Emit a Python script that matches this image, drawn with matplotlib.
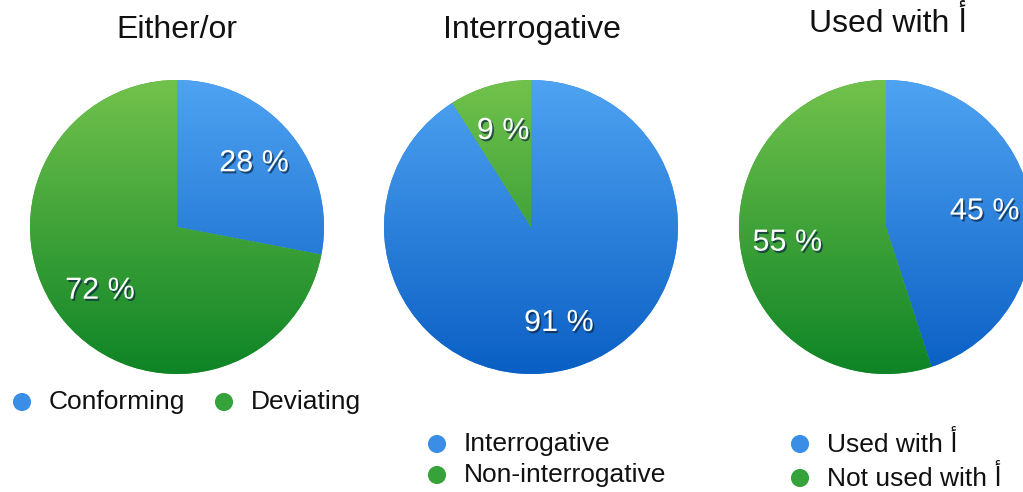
import numpy as np
import matplotlib.pyplot as plt
import matplotlib.patheffects as pe
from matplotlib.colors import LinearSegmentedColormap

plt.rcParams['font.family'] = ['Liberation Sans', 'DejaVu Sans']

alef = 'أ'
titles = ['Either/or', 'Interrogative', 'Used with ' + alef]
values = [[28, 72], [91, 9], [45, 55]]
legend_labels = [['Conforming', 'Deviating'],
                 ['Interrogative', 'Non-interrogative'],
                 ['Used with ' + alef, 'Not used with ' + alef]]

W, H = 1023, 492
fig = plt.figure(figsize=(W / 100, H / 100), dpi=100)

blue_cmap = LinearSegmentedColormap.from_list('b', ['#0a5fc4', '#4fa3f2'])
green_cmap = LinearSegmentedColormap.from_list('g', ['#0e8426', '#72c24c'])
cmaps = [blue_cmap, green_cmap]

centers = [(177, 227), (531, 227), (886, 227)]
radius = 147


def px_axes(cx, cy, r):
    return fig.add_axes([(cx - r) / W, 1 - (cy + r) / H, 2 * r / W, 2 * r / H])


shadow = [pe.SimplePatchShadow(offset=(1.2, -1.5), shadow_rgbFace='#0b2340', alpha=0.7), pe.Normal()]

grad = np.linspace(0, 1, 256).reshape(-1, 1)

for i, (cx, cy) in enumerate(centers):
    ax = px_axes(cx, cy, radius)
    wedges, texts = ax.pie(values[i], startangle=90, counterclock=False,
                           labels=[f'{v} %' for v in values[i]], labeldistance=0.68,
                           colors=['#2f86e0', '#3aa33a'],
                           wedgeprops=dict(linewidth=0),
                           textprops=dict(color='white', fontsize=22, ha='center', va='center'))
    for j, w in enumerate(wedges):
        im = ax.imshow(grad, cmap=cmaps[j], extent=[-1, 1, -1, 1], origin='lower',
                       aspect='auto', zorder=w.get_zorder() + 0.1)
        im.set_clip_path(w)
    for t in texts:
        t.set_path_effects(shadow)
        t.set_zorder(5)
    ax.set_xlim(-1, 1)
    ax.set_ylim(-1, 1)
    ax.set_aspect('equal')
    ax.axis('off')

# overlay for titles and legends, in pixel coordinates
ov = fig.add_axes([0, 0, 1, 1])
ov.set_xlim(0, W)
ov.set_ylim(H, 0)
ov.axis('off')

title_pos = [(177, 30), (532, 30), (888, 23)]
for (tx, ty), t in zip(title_pos, titles):
    ov.text(tx, ty, t, fontsize=23, ha='center', va='center', color='#111111')

legend_pos = [[(22, 402), (224, 402)],
              [(437, 444), (437, 475)],
              [(800, 444), (800, 478)]]
marker_cols = ['#3a8ee6', '#36a23a']
for labs, poss in zip(legend_labels, legend_pos):
    for j, (lab, (mx, my)) in enumerate(zip(labs, poss)):
        ov.scatter([mx], [my], s=170, color=marker_cols[j], edgecolor='none')
        ov.text(mx + 27, my, lab, fontsize=19, ha='left', va='center', color='#111111')

fig.savefig('out.png', dpi=100)
